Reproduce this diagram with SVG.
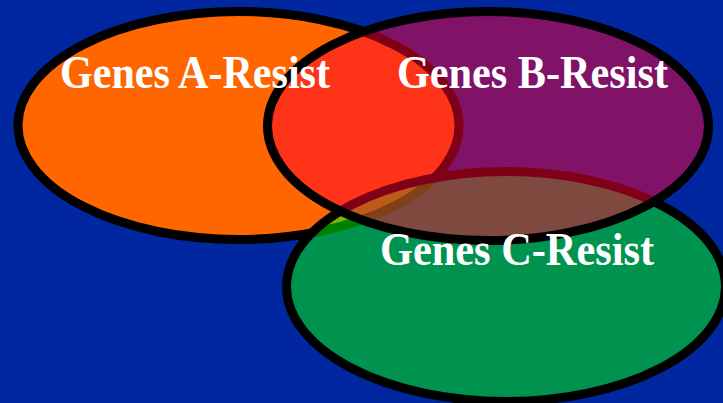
<svg xmlns="http://www.w3.org/2000/svg" width="723" height="403" viewBox="0 0 723 403">
  <style>
    .set { stroke: #000; stroke-width: 9; }
    .label { font-family: "Liberation Serif", "Times New Roman", serif; font-weight: bold; font-size: 46px; fill: #fff; }
  </style>
  <rect width="723" height="403" fill="#0026A0"/>
  <g id="set-a">
    <ellipse class="set" cx="238.5" cy="125.5" rx="220.5" ry="114" fill="#FF6600"/>
  </g>
  <g id="set-c">
    <ellipse class="set" cx="506" cy="286.5" rx="219.5" ry="115" fill="#00FF00" fill-opacity="0.5"/>
  </g>
  <g id="set-b">
    <ellipse class="set" cx="488" cy="126" rx="220.5" ry="114.5" fill="#FF0030" fill-opacity="0.5"/>
  </g>
  <g id="labels">
    <text class="label" x="60" y="88" textLength="270" lengthAdjust="spacingAndGlyphs">Genes A-Resist</text>
    <text class="label" x="397" y="88" textLength="271" lengthAdjust="spacingAndGlyphs">Genes B-Resist</text>
    <text class="label" x="380" y="265" textLength="274" lengthAdjust="spacingAndGlyphs">Genes C-Resist</text>
  </g>
</svg>
